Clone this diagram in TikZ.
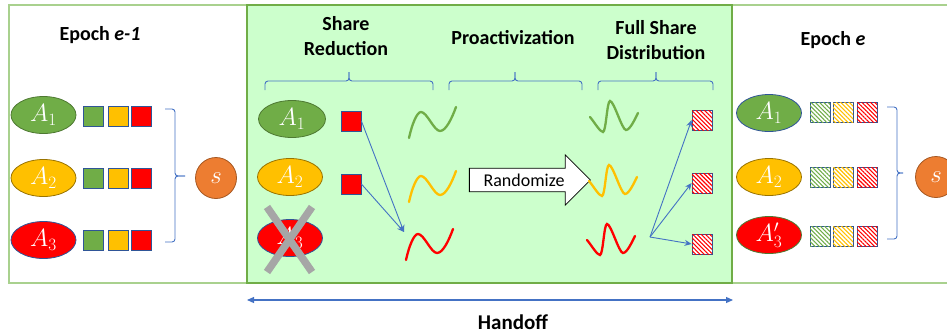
\documentclass[tikz,border=0pt]{standalone}
\usepackage{fontspec}
\setmainfont{Carlito}
\usetikzlibrary{shapes.geometric,shapes.arrows,patterns.meta,arrows.meta}

\definecolor{agreen}{HTML}{70AD47}
\definecolor{ayellow}{HTML}{FFC000}
\definecolor{ared}{HTML}{FF0000}
\definecolor{aorange}{HTML}{ED7D31}
\definecolor{lineblue}{HTML}{4472C4}
\definecolor{boxblue}{HTML}{2F5597}
\definecolor{paleframe}{HTML}{A9D18E}
\definecolor{midfill}{HTML}{CCFFCC}

\tikzset{
  party/.style={draw, ellipse, minimum width=65pt, minimum height=37pt, inner sep=0pt,
    text=white, line width=0.8pt, font=\fontsize{24}{24}\selectfont},
  share/.style={draw=boxblue, minimum size=20pt, inner sep=0pt, line width=0.8pt},
  hatch/.style={share, fill=white,
    postaction={pattern={Lines[angle=-45,distance=3pt,line width=1.1pt]}, pattern color=#1}},
  secret/.style={circle, draw=aorange!70!black, fill=aorange, minimum size=41pt, inner sep=0pt,
    text=white, line width=0.8pt, font=\fontsize{24}{24}\selectfont},
  title/.style={font=\fontsize{20}{25}\selectfont\bfseries, align=center},
  bracket/.style={draw=lineblue, line width=0.9pt, rounded corners=3pt},
  link/.style={draw=lineblue, line width=0.9pt, -{Stealth[length=7pt,width=6pt]}},
  wave/.style={line width=2.3pt, line cap=round},
}

% share reduction wave, start point and colour
\newcommand{\reducewave}[3]{%
  \draw[wave, #3, shift={(#1,#2)}] (0,0) .. controls (3,-14) and (8,-26) .. (12,-26)
    .. controls (18,-26) and (25,-7) .. (31,-7) .. controls (37,-7) and (43,-20) .. (47,-31);}
% randomized wave
\newcommand{\fullwave}[3]{%
  \draw[wave, #3, shift={(#1,#2)}] (0,0) .. controls (5,6) and (10,15) .. (13,15)
    .. controls (16,15) and (17,-16) .. (20,-16) .. controls (24,-16) and (32,13) .. (36,13)
    .. controls (40,13) and (45,2) .. (48,-4);}

\begin{document}
\begin{tikzpicture}[x=1pt, y=-1pt]
\useasboundingbox (0,0) rectangle (947,335);
\clip (0,0) rectangle (947,335);

% frames
\path[draw=paleframe, line width=1.5pt] (9,5) rectangle (960,283);
\path[draw=agreen, fill=midfill, line width=1.2pt] (247,5) rectangle (732,283);

% titles
\node[title] (old) at (100,35) {Epoch \textit{e-1}};
\node[title] (sred) at (346,36) {Share\\Reduction};
\node[title] (pro) at (513,38) {Proactivization};
\node[title] (full) at (656,40) {Full Share\\Distribution};
\node[title] (new) at (833,40) {Epoch \textit{e}};

% epoch e-1
\node[party, fill=agreen, draw=agreen!70!black] (l1) at (43.5,115) {$A_1$};
\node[party, fill=ayellow, draw=ayellow!60!black] (l2) at (43.5,178) {$A_2$};
\node[party, fill=ared, draw=boxblue] (l3) at (43.5,240) {$A_3$};
\foreach \y [count=\i] in {116,178,240} {
  \node[share, fill=agreen] (lg\i) at (93,\y) {};
  \node[share, fill=ayellow] (ly\i) at (118,\y) {};
  \node[share, fill=ared] (lr\i) at (141,\y) {};
}
\path[bracket] (165,109) -- (175,109) -- (175,176) -- (185,176);
\path[bracket] (165,242) -- (175,242) -- (175,176) -- (185,176);
\node[secret] (sl) at (216,178) {$s$};

% handoff
\foreach \l/\m/\r in {265/349/433, 449/515/582, 598/656/713} {
  \path[bracket] (\l,90) -- (\l,81) -- (\m,81) -- (\m,72);
  \path[bracket] (\r,90) -- (\r,81) -- (\m,81) -- (\m,72);
}
\node[party, fill=agreen, draw=agreen!70!black, minimum width=67pt] (m1) at (292,119) {$A_1$};
\node[party, fill=ayellow, draw=ayellow!60!black] (m2) at (290,177) {$A_2$};
\node[party, fill=ared, draw=boxblue] (m3) at (290,238) {$A_3$};
\path[draw=black!35, line width=7.5pt] (267,207) -- (312,272) (312,207) -- (267,272);

\node[share, fill=ared] (s1) at (351,121) {};
\node[share, fill=ared] (s2) at (351,184) {};
\coordinate (meet) at (404,232);
\path[link] (s1.east) -- (meet);
\path[link] (s2.east) -- (meet);

\reducewave{409}{138}{agreen}
\reducewave{409}{202}{ayellow}
\reducewave{406}{260}{ared}

\node[single arrow, draw, fill=white, line width=0.8pt, inner ysep=5pt, inner xsep=3pt,
  single arrow head extend=13.5pt, single arrow head indent=0pt, minimum height=121pt,
  font=\fontsize{18}{18}\selectfont] (rand) at (524,180) {Randomize};

\fullwave{590}{117}{agreen}
\fullwave{589}{181}{ayellow}
\fullwave{587}{240}{ared}

\node[hatch=ared] (h1) at (702,120) {};
\node[hatch=ared] (h2) at (702,183) {};
\node[hatch=ared] (h3) at (702,244) {};
\coordinate (fork) at (650,237);
\path[link] (fork) -- (h1.west);
\path[link] (fork) -- (h2.west);
\path[link] (fork) -- (h3.west);

% epoch e
\node[party, fill=agreen, draw=boxblue] (r1) at (769,113) {$A_1$};
\node[party, fill=ayellow, draw=ayellow!60!black] (r2) at (769,177) {$A_2$};
\node[party, fill=ared, draw=agreen!70!black] (r3) at (769,235) {$A_3'$};
\foreach \y [count=\i] in {112,177,236} {
  \node[hatch=agreen] (rg\i) at (820,\y) {};
  \node[hatch=ayellow] (ry\i) at (843,\y) {};
  \node[hatch=ared] (rr\i) at (867,\y) {};
}
\path[bracket] (887,107) -- (897,107) -- (897,173) -- (903,173);
\path[bracket] (887,239) -- (897,239) -- (897,173) -- (903,173);
\node[secret] (sr) at (936,177) {$s$};

% bottom
\coordinate (ha) at (247,300);
\coordinate (hb) at (733,300);
\path[draw=lineblue, line width=1.2pt, {Triangle[length=7pt,width=6pt]}-{Triangle[length=7pt,width=6pt]}] (ha) -- (hb);
\node[title, font=\fontsize{21}{24}\selectfont\bfseries] (hand) at (513,322) {Handoff};
\end{tikzpicture}
\end{document}
